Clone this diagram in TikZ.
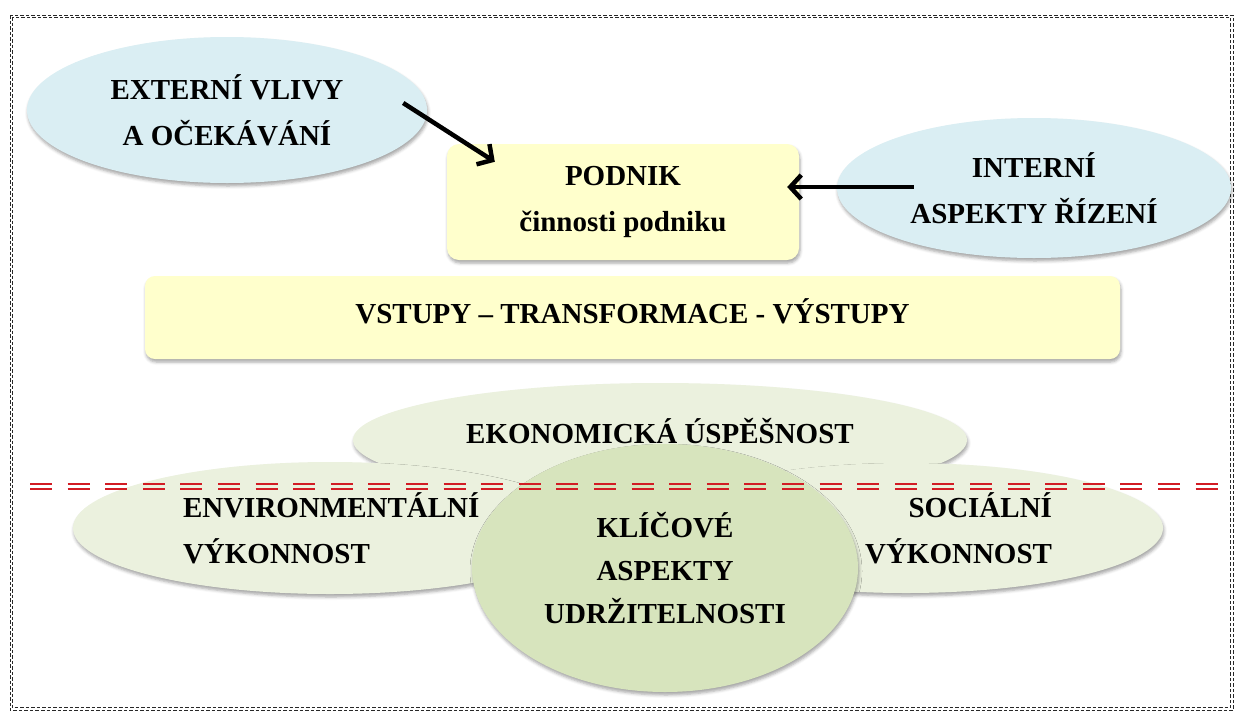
\documentclass[tikz,border=0pt]{standalone}
\usepackage{fontspec}
\setmainfont{Liberation Serif}
\usetikzlibrary{shapes.geometric,arrows.meta,shadows.blur,calc}

\definecolor{skyfill}{HTML}{DAEEF3}
\definecolor{paleyellow}{HTML}{FFFFCC}
\definecolor{sagefill}{HTML}{EBF1DE}
\definecolor{sagedeep}{HTML}{D7E4BD}
\definecolor{dividerred}{RGB}{210,28,36}
\definecolor{bordergray}{RGB}{40,40,40}

\begin{document}
\begin{tikzpicture}[x=1pt,y=-1pt,
  every node/.style={font=\fontsize{29}{46}\selectfont\bfseries, inner sep=0pt, align=center},
  softshadow/.style={blur shadow={shadow xshift=1pt,shadow yshift=-3pt,shadow blur radius=3pt,shadow opacity=35}},
  oval/.style={ellipse, softshadow},
  panel/.style={rectangle, rounded corners=12pt, fill=paleyellow, softshadow},
  pointer/.style={line width=4.5pt, -{Straight Barb[length=11pt,width=24pt]}},
  divider/.style={draw=dividerred, line width=2.2pt, dash pattern=on 22pt off 15.6pt},
  pageborder/.style={draw=bordergray, line width=1pt, dash pattern=on 3.5pt off 2pt}]

\useasboundingbox (0,0) rectangle (1235,713);

% outer dashed border, drawn as two close parallel outlines
\draw[pageborder] (10,15) rectangle (1233,710);
\draw[pageborder] (12.2,17.2) rectangle (1230.8,707.8);

% influences and the enterprise
\node[oval, fill=skyfill, minimum width=400pt, minimum height=146pt] (ext) at (227,110) {EXTERNÍ VLIVY\\A OČEKÁVÁNÍ};
\node[oval, fill=skyfill, minimum width=394pt, minimum height=140pt] (int) at (1034,188) {INTERNÍ\\ASPEKTY ŘÍZENÍ};
\node[panel, minimum width=352pt, minimum height=116pt] (pod) at (623,202) {PODNIK\\činnosti podniku};

% process band
\node[panel, rounded corners=10pt, minimum width=975pt, minimum height=83pt, text height=26pt, text depth=14pt] (io) at (632.5,317.5) {VSTUPY – TRANSFORMACE - VÝSTUPY};

% performance areas
\node[oval, fill=sagefill, minimum width=614pt, minimum height=114pt, text height=26pt, text depth=20pt] (eko) at (660,440) {EKONOMICKÁ ÚSPĚŠNOST};
\node[oval, fill=sagefill, minimum width=514pt, minimum height=132pt, text width=294pt, align=left] (env) at (330,528) {ENVIRONMENTÁLNÍ\\VÝKONNOST};
\node[oval, fill=sagefill, minimum width=514pt, minimum height=130pt, text width=292pt, align=right] (soc) at (906,528) {SOCIÁLNÍ\\VÝKONNOST};
\node[oval, fill=sagedeep, minimum width=386pt, minimum height=248pt, font=\fontsize{29}{43}\selectfont\bfseries] (key) at (665,568) {KLÍČOVÉ\\ASPEKTY\\UDRŽITELNOSTI};

% dividing line
\draw[divider] (30,484) -- (1220,484);
\draw[divider] (30,489) -- (1220,489);

% influence arrows
\draw[pointer] ([shift={(-24,-7)}]ext.east) -- ([shift={(48,18)}]pod.north west);
\draw[pointer] ([shift={(77,-1)}]int.west) -- ([shift={(-12,-15)}]pod.east);
\end{tikzpicture}
\end{document}
